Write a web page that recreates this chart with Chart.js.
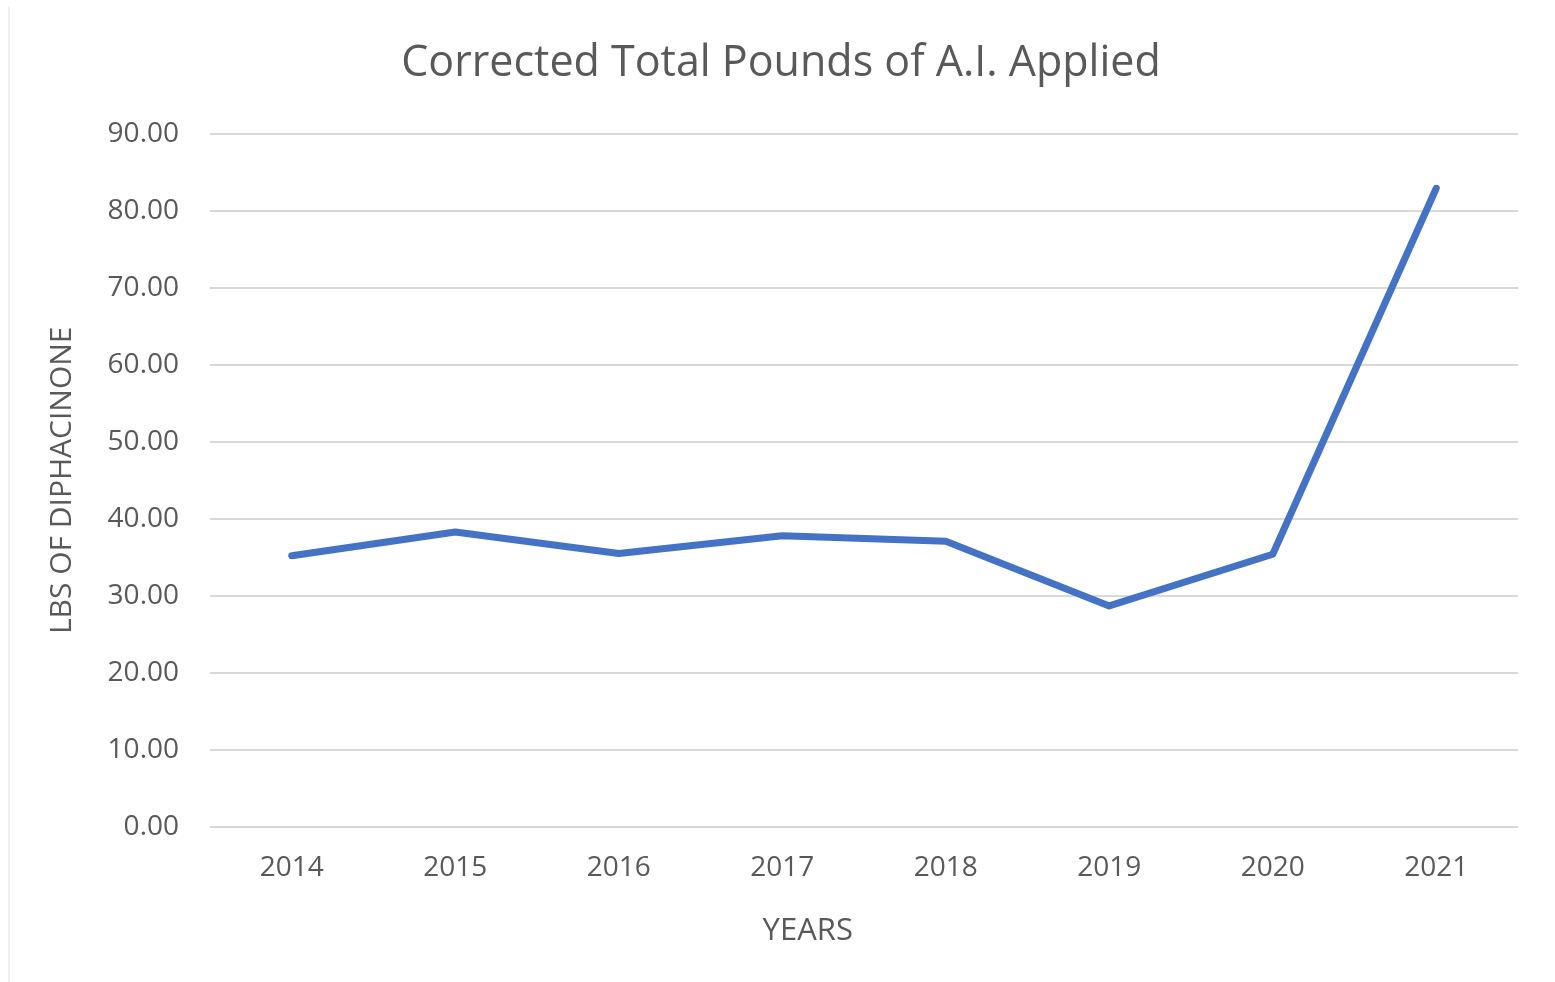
<!DOCTYPE html>
<html lang="en">
<head>
    <meta charset="UTF-8">
    <title>Corrected Total Pounds of A.I. Applied</title>
    <script src="https://cdn.jsdelivr.net/npm/chart.js"></script>
    <style>
        body { margin: 0; background: #fff; }
        .wrap { position: relative; width: 1555px; height: 982px; }
        .edge { position: absolute; left: 8px; top: 6px; bottom: 0; width: 2px; background: #f0f0f0; }
    </style>
</head>
<body>
    <div class="wrap">
        <div class="edge"></div>
        <canvas id="aiChart" width="1555" height="982"></canvas>
    </div>

    <script>
const years = ['2014', '2015', '2016', '2017', '2018', '2019', '2020', '2021'];
const lbsApplied = [35.2, 38.3, 35.5, 37.8, 37.1, 28.7, 35.4, 82.9];
const yTicks = [0, 10, 20, 30, 40, 50, 60, 70, 80, 90];

const textColor = '#595959';
const fontFamily = "'Open Sans', sans-serif";

// x axis title sits a bit left of the plot centre, like the original
const xTitlePlugin = {
    id: 'xTitle',
    afterDraw(chart) {
        const c = chart.ctx;
        const area = chart.chartArea;
        c.save();
        c.font = "31px 'Open Sans', sans-serif";
        c.fillStyle = textColor;
        c.textAlign = 'center';
        c.textBaseline = 'middle';
        c.fillText('YEARS', area.left + area.width * 0.457, area.bottom + 104);
        c.restore();
    }
};

const ctx = document.getElementById('aiChart').getContext('2d');

new Chart(ctx, {
    type: 'line',
    data: {
        labels: years,
        datasets: [{
            label: 'Lbs of Diphacinone',
            data: lbsApplied,
            borderColor: '#4472C4',
            borderWidth: 7,
            borderCapStyle: 'round',
            borderJoinStyle: 'round',
            pointRadius: 0,
            tension: 0,
            fill: false
        }]
    },
    options: {
        responsive: false,
        animation: false,
        layout: { padding: { left: 44, right: 37, top: 0, bottom: 0 } },
        plugins: {
            legend: { display: false },
            tooltip: { enabled: false },
            title: {
                display: true,
                text: 'Corrected Total Pounds of A.I. Applied',
                color: textColor,
                font: { family: fontFamily, size: 43, weight: 'normal' },
                padding: { top: 38, bottom: 44 }
            }
        },
        scales: {
            x: {
                offset: true,
                grid: { display: false, drawTicks: false },
                border: { display: false },
                ticks: {
                    color: textColor,
                    font: { family: fontFamily, size: 28 },
                    padding: 24
                },
                afterFit: scale => { scale.height = 155; }
            },
            y: {
                min: 0,
                max: 90,
                afterBuildTicks: scale => { scale.ticks = yTicks.map(v => ({ value: v })); },
                grid: { color: '#d9d9d9', lineWidth: 2, drawTicks: false },
                border: { display: false },
                ticks: {
                    color: textColor,
                    font: { family: fontFamily, size: 28 },
                    padding: 31,
                    callback: v => Number(v).toFixed(2)
                },
                title: {
                    display: true,
                    text: 'LBS OF DIPHACINONE',
                    color: textColor,
                    font: { family: fontFamily, size: 30 },
                    padding: { top: 0, bottom: 0 }
                },
                afterFit: scale => { scale.width = 166; }
            }
        }
    },
    plugins: [xTitlePlugin]
});
    </script>
</body>
</html>
